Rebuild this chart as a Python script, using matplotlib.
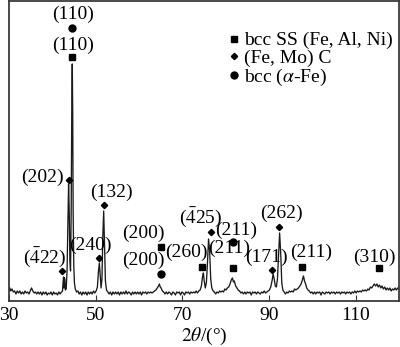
import matplotlib
matplotlib.use('Agg')
import matplotlib.pyplot as plt
from matplotlib.lines import Line2D

plt.rcParams['font.family'] = ['Liberation Serif', 'DejaVu Serif']
plt.rcParams['mathtext.fontset'] = 'stix'

# XRD pattern: (2theta in deg, intensity in a.u.)
pattern = [
    (30.0, 11), (30.2, 13), (30.4, 10), (30.7, 12), (31.0, 9), (31.3, 10), (31.6, 7), (31.9, 10),
    (32.2, 8), (32.5, 10), (32.8, 7), (33.1, 9), (33.4, 7), (33.7, 10), (34.0, 8), (34.3, 9),
    (34.6, 7), (34.9, 10), (35.2, 13), (35.5, 10), (35.8, 8), (36.1, 9), (36.4, 7), (36.7, 9),
    (37.0, 7), (37.3, 9), (37.6, 6), (37.9, 9), (38.2, 7), (38.5, 9), (38.8, 6), (39.1, 8),
    (39.4, 7), (39.7, 9), (40.0, 6), (40.3, 9), (40.6, 7), (40.9, 8), (41.2, 6), (41.5, 9),
    (41.8, 7), (42.1, 9), (42.35, 10), (42.5, 20), (42.6, 24), (42.7, 13), (42.8, 23), (42.9, 21),
    (43.0, 11), (43.2, 12), (43.4, 30), (43.6, 80), (43.75, 117), (43.9, 90), (44.05, 40),
    (44.2, 30), (44.35, 90), (44.5, 200), (44.6, 237), (44.7, 190), (44.8, 90), (44.95, 35),
    (45.1, 18), (45.3, 12), (45.6, 9), (45.9, 10), (46.2, 7), (46.5, 9), (46.8, 6), (47.1, 9),
    (47.4, 7), (47.7, 9), (48.0, 6), (48.3, 9), (48.6, 7), (48.9, 9), (49.2, 7), (49.5, 10),
    (49.8, 8), (50.1, 10), (50.4, 14), (50.65, 30), (50.85, 38), (51.05, 26), (51.25, 13),
    (51.45, 22), (51.65, 65), (51.85, 90), (52.05, 55), (52.25, 20), (52.5, 11), (52.8, 9),
    (53.1, 7), (53.4, 9), (53.7, 6), (54.0, 9), (54.3, 7), (54.6, 9), (54.9, 7), (55.2, 9),
    (55.5, 6), (55.8, 9), (56.1, 7), (56.4, 9), (56.7, 7), (57.0, 10), (57.3, 7), (57.6, 9),
    (57.9, 8), (58.2, 6), (58.5, 9), (58.8, 7), (59.1, 9), (59.4, 7), (59.7, 9), (60.0, 7),
    (60.3, 9), (60.6, 6), (60.9, 9), (61.2, 8), (61.5, 9), (61.8, 7), (62.1, 9), (62.4, 8),
    (62.7, 9), (63.0, 8), (63.3, 9), (63.6, 10), (63.9, 11), (64.2, 13), (64.5, 15),
    (64.7, 17), (64.9, 14), (65.1, 13), (65.4, 10), (65.7, 9), (66.0, 7), (66.3, 9), (66.6, 7),
    (66.9, 9), (67.2, 8), (67.5, 6), (67.8, 9), (68.1, 8), (68.4, 6), (68.7, 9), (69.0, 8),
    (69.3, 9), (69.6, 6), (69.9, 9), (70.2, 8), (70.5, 6), (70.8, 9), (71.1, 8), (71.4, 9),
    (71.7, 7), (72.0, 9), (72.3, 8), (72.6, 9), (72.9, 8), (73.2, 10), (73.5, 8), (73.8, 10),
    (74.1, 11), (74.4, 15), (74.65, 24), (74.85, 28), (75.05, 20), (75.3, 13), (75.55, 18),
    (75.8, 38), (76.05, 62), (76.3, 50), (76.55, 22), (76.8, 13), (77.1, 10), (77.4, 9),
    (77.7, 7), (78.0, 9), (78.3, 8), (78.6, 10), (78.9, 9), (79.2, 10), (79.5, 9), (79.8, 12),
    (80.1, 11), (80.4, 13), (80.7, 14), (81.0, 17), (81.3, 21), (81.55, 23), (81.8, 19),
    (82.0, 20), (82.3, 15), (82.6, 13), (82.9, 11), (83.2, 10), (83.5, 8), (83.8, 9), (84.1, 7),
    (84.4, 9), (84.7, 7), (85.0, 9), (85.3, 8), (85.6, 9), (85.9, 6), (86.2, 9), (86.5, 8),
    (86.8, 9), (87.1, 7), (87.4, 9), (87.7, 8), (88.0, 7), (88.3, 9), (88.6, 8), (88.9, 10),
    (89.2, 8), (89.5, 9), (89.8, 10), (90.1, 11), (90.4, 14), (90.7, 20), (90.95, 27),
    (91.2, 22), (91.45, 15), (91.7, 14), (91.95, 22), (92.2, 45), (92.45, 68), (92.7, 48),
    (92.95, 18), (93.2, 11), (93.5, 9), (93.8, 7), (94.1, 9), (94.4, 8), (94.7, 10), (95.0, 9),
    (95.3, 10), (95.6, 9), (95.9, 12), (96.2, 11), (96.5, 12), (96.8, 13), (97.1, 15),
    (97.4, 17), (97.7, 21), (97.95, 25), (98.2, 20), (98.45, 17), (98.7, 13), (99.0, 11),
    (99.3, 10), (99.6, 8), (99.9, 9), (100.2, 7), (100.5, 9), (100.8, 7), (101.1, 9),
    (101.4, 8), (101.7, 9), (102.0, 6), (102.3, 9), (102.6, 8), (102.9, 7), (103.2, 9),
    (103.5, 8), (103.8, 9), (104.1, 7), (104.4, 9), (104.7, 8), (105.0, 9), (105.3, 7),
    (105.6, 9), (105.9, 8), (106.2, 9), (106.5, 7), (106.8, 9), (107.1, 8), (107.4, 9),
    (107.7, 7), (108.0, 9), (108.3, 8), (108.6, 9), (108.9, 7), (109.2, 9), (109.5, 8),
    (109.8, 10), (110.1, 8), (110.4, 10), (110.7, 9), (111.0, 10), (111.3, 9), (111.6, 11),
    (111.9, 10), (112.2, 11), (112.5, 10), (112.8, 12), (113.1, 11), (113.4, 14), (113.7, 13),
    (114.0, 15), (114.3, 17), (114.6, 15), (114.9, 17), (115.2, 14), (115.5, 16), (115.8, 13),
    (116.1, 15), (116.4, 12), (116.7, 14), (117.0, 11), (117.3, 13), (117.6, 11), (117.9, 13),
    (118.2, 10), (118.5, 12), (118.8, 11), (119.1, 13), (119.4, 11), (119.7, 13), (120.0, 12),
]

# phase markers: (2theta, height)
ss_marks = [(44.6, 244), (65.0, 54), (74.5, 34), (81.8, 33), (97.5, 34), (115.3, 33)]
carbide_marks = [(43.8, 121), (51.9, 96), (50.7, 43), (42.2, 30), (76.5, 69), (90.8, 31), (92.2, 74)]
fe_marks = [(44.6, 273), (65.0, 27), (81.8, 59)]

# peak index labels: (text, 2theta, height)
hkl_labels = [
    ('(110)', 44.8, 287), ('(110)', 44.8, 256), ('(202)', 37.7, 124), ('(132)', 53.7, 109),
    ('(240)', 48.7, 56), (r'($\bar{4}$22)', 38.3, 44), ('(200)', 61.1, 68), ('(200)', 61.1, 41),
    ('(260)', 71.0, 49), (r'($\bar{4}$25)', 74.2, 84), ('(211)', 82.5, 71), ('(211)', 80.9, 53),
    ('(171)', 89.4, 44), ('(262)', 92.9, 88), ('(211)', 99.8, 49), ('(310)', 114.3, 44),
]

x_ticks = [30, 50, 70, 90, 110]

fig = plt.figure(figsize=(4, 3.47), dpi=100)
ax = fig.add_axes([0.0225, 0.1326, 0.975, 0.8646])

two_theta, counts = zip(*pattern)
ax.plot(two_theta, counts, color='#1a1a1a', lw=0.95)

for pts, mk, ms in [(ss_marks, 's', 4.5), (carbide_marks, 'D', 3.2), (fe_marks, 'o', 5)]:
    xs, ys = zip(*pts)
    ax.plot(xs, ys, ls='none', marker=mk, ms=ms, color='black')

for txt, x, y in hkl_labels:
    ax.text(x, y, txt, fontsize=14, ha='center', va='center')

handles = [
    Line2D([], [], ls='none', marker='s', ms=4.5, color='black'),
    Line2D([], [], ls='none', marker='D', ms=3.2, color='black'),
    Line2D([], [], ls='none', marker='o', ms=5, color='black'),
]
ax.legend(handles, ['bcc SS (Fe, Al, Ni)', '(Fe, Mo) C', r'bcc ($\alpha$-Fe)'],
          loc='upper left', bbox_to_anchor=(0.54, 0.93), frameon=False, fontsize=14,
          handlelength=0.5, handletextpad=0.25, labelspacing=0.0, borderpad=0)

ax.set_xlim(30, 120)
ax.set_ylim(0, 300)
ax.set_xticks(x_ticks)
ax.set_yticks([])
ax.tick_params(axis='x', direction='in', length=4, labelsize=14, pad=4, color='#333333')
ax.set_xlabel(r'$2\theta$/(°)', fontsize=14, labelpad=2)
for s in ax.spines.values():
    s.set_color('#3a3a3a')
    s.set_linewidth(1.3)

fig.savefig('out.png', dpi=100)
